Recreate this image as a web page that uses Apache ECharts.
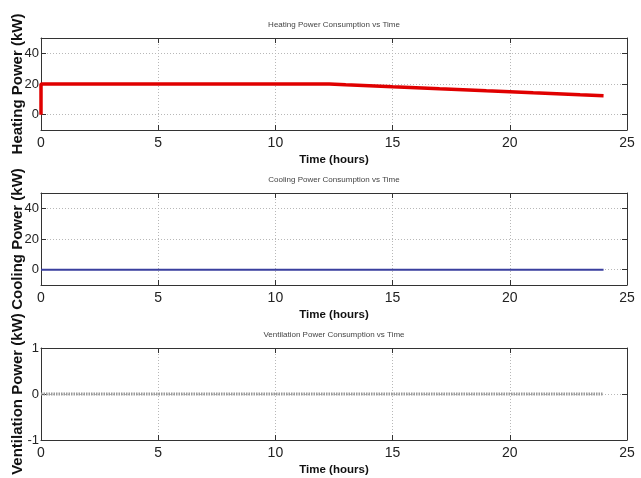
<!DOCTYPE html>
<html>
<head>
<meta charset="utf-8">
<script src="https://cdn.jsdelivr.net/npm/echarts@6/dist/echarts.min.js"></script>
<style>
  html, body { margin: 0; padding: 0; background: #fff; }
  #chart { width: 641px; height: 478px; }
</style>
</head>
<body>
<div id="chart"></div>
<script>
// Time axis (hours)
const timeTicks = [0, 5, 10, 15, 20, 25];

// Heating power (kW) sampled hourly, with the switch-on step at t = 0
const heatingTime = [0, 0, 1, 2, 3, 4, 5, 6, 7, 8, 9, 10, 11, 12, 12.3, 13, 14, 15, 16, 17, 18, 19, 20, 21, 22, 23, 24];
const heatingPower = [0, 20, 20, 20, 20, 20, 20, 20, 20, 20, 20, 20, 20, 20, 20, 19.5, 18.9, 18.2, 17.6, 16.9, 16.3, 15.6, 15.0, 14.3, 13.7, 13.0, 12.4];

// Cooling and ventilation power (kW)
const hours = [0, 1, 2, 3, 4, 5, 6, 7, 8, 9, 10, 11, 12, 13, 14, 15, 16, 17, 18, 19, 20, 21, 22, 23, 24];
const coolingPower = [0, 0, 0, 0, 0, 0, 0, 0, 0, 0, 0, 0, 0, 0, 0, 0, 0, 0, 0, 0, 0, 0, 0, 0, 0];
const ventilationPower = [0, 0, 0, 0, 0, 0, 0, 0, 0, 0, 0, 0, 0, 0, 0, 0, 0, 0, 0, 0, 0, 0, 0, 0, 0];

// Power tick labels
const powerTicks = [0, 20, 40];
const ventTicks = [-1, 0, 1];

const titles = [
  'Heating Power Consumption vs Time',
  'Cooling Power Consumption vs Time',
  'Ventilation Power Consumption vs Time'
];
const yNames = ['Heating Power (kW)', 'Cooling Power (kW)', 'Ventilation Power (kW)'];

const FONT = '"Liberation Sans", Arial, sans-serif';
const AXIS = '#333';
const GRIDC = '#b8b8b8';

const gridTops = [38, 193, 348];
const gridH = 92;

const pairs = (xs, ys) => xs.map((x, i) => [x, ys[i]]);

const grids = gridTops.map(t => ({
  left: 41, right: 14, top: t, height: gridH, show: false,
  containLabel: false, outerBoundsMode: 'none'
}));

const xAxes = [];
const yAxes = [];
gridTops.forEach((_, g) => {
  // bottom axis with labels and dotted grid
  xAxes.push({
    type: 'value', gridIndex: g, min: 0, max: 25, interval: 5,
    name: 'Time (hours)', nameLocation: 'middle', nameGap: 24, nameMoveOverlap: false,
    nameTextStyle: { fontFamily: FONT, fontWeight: 'bold', fontSize: 11.5, color: '#111' },
    axisLine: { show: true, onZero: false, lineStyle: { color: AXIS, width: 1 } },
    axisTick: { show: true, inside: true, length: 5, lineStyle: { color: AXIS } },
    axisLabel: { fontFamily: FONT, fontSize: 14, color: '#222', margin: 6 },
    splitLine: { show: true, lineStyle: { color: GRIDC, type: [1, 2], width: 1 } }
  });
  // mirrored top axis (box edge with inner ticks)
  xAxes.push({
    type: 'value', gridIndex: g, min: 0, max: 25, interval: 5, position: 'top',
    axisLine: { show: true, onZero: false, lineStyle: { color: AXIS, width: 1 } },
    axisTick: { show: true, inside: true, length: 5, lineStyle: { color: AXIS } },
    axisLabel: { show: false }, splitLine: { show: false }
  });
});

gridTops.forEach((_, g) => {
  const isVent = g === 2;
  const range = isVent ? { min: -1, max: 1, interval: 1 } : { min: -10, max: 50, interval: 10 };
  const ticks = isVent ? ventTicks : powerTicks;
  yAxes.push(Object.assign({
    type: 'value', gridIndex: g,
    name: yNames[g], nameLocation: 'middle', nameRotate: 90, nameGap: 16, nameMoveOverlap: false,
    nameTextStyle: { fontFamily: FONT, fontWeight: 'bold', fontSize: 15, color: '#111' },
    axisLine: { show: true, onZero: false, lineStyle: { color: AXIS, width: 1 } },
    axisTick: { show: true, inside: true, length: 5, lineStyle: { color: AXIS }, customValues: ticks },
    axisLabel: { fontFamily: FONT, fontSize: 13, color: '#222', margin: 2, customValues: ticks },
    splitLine: { show: true, lineStyle: { color: GRIDC, type: [1, 2], width: 1 } }
  }, range));
  yAxes.push(Object.assign({
    type: 'value', gridIndex: g, position: 'right',
    axisLine: { show: true, onZero: false, lineStyle: { color: AXIS, width: 1 } },
    axisTick: { show: true, inside: true, length: 5, lineStyle: { color: AXIS }, customValues: ticks },
    axisLabel: { show: false }, splitLine: { show: false }
  }, range));
});

const option = {
  backgroundColor: '#fff',
  animation: false,
  title: titles.map((t, i) => ({
    text: t, left: 334, top: gridTops[i] - 17, textAlign: 'center', padding: 0,
    textStyle: { fontFamily: FONT, fontSize: 8, fontWeight: 'normal', color: '#444' }
  })),
  grid: grids,
  xAxis: xAxes,
  yAxis: yAxes,
  series: [
    {
      type: 'line', xAxisIndex: 0, yAxisIndex: 0, showSymbol: false,
      data: pairs(heatingTime, heatingPower),
      lineStyle: { color: '#e00000', width: 3.5 }
    },
    {
      type: 'line', xAxisIndex: 2, yAxisIndex: 2, showSymbol: false,
      data: pairs(hours, coolingPower),
      lineStyle: { color: '#3a3f9e', width: 2 }
    },
    {
      type: 'line', xAxisIndex: 4, yAxisIndex: 4, showSymbol: false,
      data: pairs(hours, ventilationPower),
      lineStyle: { color: '#9a9a9a', width: 3, type: [1.5, 1] }
    }
  ]
};

echarts.init(document.getElementById('chart'), null, { renderer: 'canvas' }).setOption(option);
</script>
</body>
</html>
